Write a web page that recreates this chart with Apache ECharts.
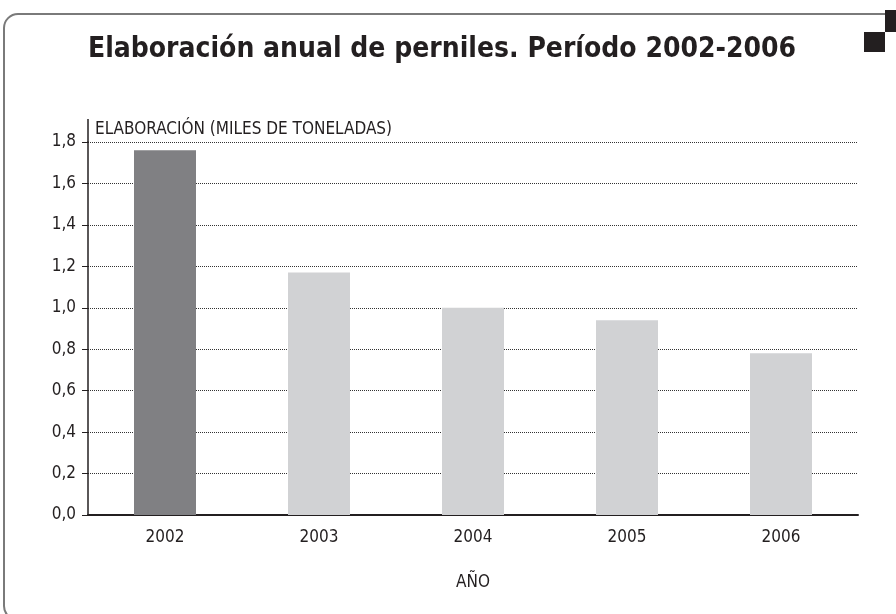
<!DOCTYPE html>
<html>
<head>
<meta charset="utf-8">
<script src="https://cdn.jsdelivr.net/npm/echarts@6/dist/echarts.min.js"></script>
<style>
	html, body { margin: 0; padding: 0; background: #fff; }
	#chart { width: 896px; height: 614px; }
</style>
</head>
<body>
<div id="chart"></div>
<script>
	// datos
	var years = ['2002', '2003', '2004', '2005', '2006'];
	var elaboracion = [1.76, 1.17, 1.0, 0.94, 0.78];
	var barColors = ['#808083', '#d1d2d4', '#d1d2d4', '#d1d2d4', '#d1d2d4'];
	var yTicks = { min: 0, max: 1.8, interval: 0.2 };

	var fontFam = '"Liberation Sans Narrow", "DejaVu Sans Condensed", sans-serif';
	var chart = echarts.init(document.getElementById('chart'));

	var option = {
		animation: false,
		title: {
			text: 'Elaboración anual de perniles. Período 2002-2006',
			left: 437,
			top: 31,
			textAlign: 'center',
			textStyle: {
				fontFamily: fontFam,
				fontWeight: 'bold',
				fontSize: 28,
				color: '#231f20'
			}
		},
		grid: {
			left: 88,
			right: 38,
			top: 142,
			bottom: 99
		},
		xAxis: {
			type: 'category',
			data: years,
			name: 'AÑO',
			nameLocation: 'middle',
			nameGap: 59,
			nameTextStyle: { fontFamily: fontFam, fontSize: 17, color: '#231f20' },
			axisLine: { lineStyle: { color: '#231f20', width: 2 } },
			axisTick: { show: false },
			axisLabel: { margin: 14, fontFamily: fontFam, fontSize: 17, color: '#231f20' }
		},
		yAxis: {
			type: 'value',
			min: yTicks.min,
			max: yTicks.max,
			interval: yTicks.interval,
			name: 'ELABORACIÓN (MILES DE TONELADAS)',
			nameLocation: 'end',
			nameGap: 4,
			nameTextStyle: {
				fontFamily: fontFam, fontSize: 17, color: '#231f20',
				align: 'left', padding: [0, 0, 0, 7]
			},
			axisLine: { show: true, lineStyle: { color: '#231f20', width: 1.5 } },
			axisTick: { show: true, length: 6, lineStyle: { color: '#231f20' } },
			axisLabel: {
				margin: 12,
				fontFamily: fontFam, fontSize: 17, color: '#231f20',
				formatter: function(v) { return v.toFixed(1).replace('.', ','); }
			},
			splitLine: { lineStyle: { type: 'dotted', color: '#333', width: 1 } }
		},
		series: [{
			type: 'bar',
			barWidth: 62,
			data: elaboracion.map(function(v, i) {
				return { value: v, itemStyle: { color: barColors[i] } };
			})
		}],
		graphic: [
			{ // marco redondeado
				type: 'rect',
				shape: { x: 4, y: 14, width: 960, height: 606, r: 14 },
				style: { stroke: '#7a7a7a', lineWidth: 2, fill: 'none' }
			},
			{ type: 'rect', shape: { x: 885, y: 10, width: 11, height: 22 }, style: { fill: '#231f20' } },
			{ type: 'rect', shape: { x: 864, y: 32, width: 21, height: 20 }, style: { fill: '#231f20' } },
			{ // prolongación del eje Y
				type: 'line',
				shape: { x1: 88, y1: 119, x2: 88, y2: 142 },
				style: { stroke: '#231f20', lineWidth: 1.5 }
			}
		]
	};
	chart.setOption(option);
</script>
</body>
</html>
